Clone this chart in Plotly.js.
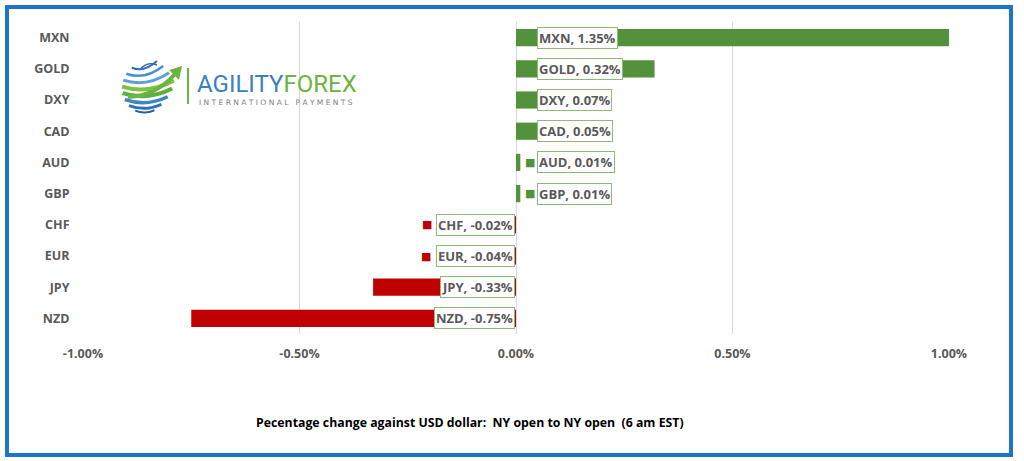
<!DOCTYPE html>
<html><head><meta charset="utf-8">
<script src="https://cdn.plot.ly/plotly-3.0.1.min.js"></script>
<style>html,body{margin:0;padding:0;background:#fff;}#chart{width:1024px;height:461px;}</style>
</head><body><div id="chart"></div>
<script>
// ---- data ----
const categories = ['MXN','GOLD','DXY','CAD','AUD','GBP','CHF','EUR','JPY','NZD'];
const values = [1.35, 0.32, 0.07, 0.05, 0.01, 0.01, -0.02, -0.04, -0.33, -0.75];
const keyed = ['AUD','GBP','CHF','EUR'];
const xTicks = [-1, -0.5, 0, 0.5, 1];
const xTickLabels = ['-1.00%', '-0.50%', '0.00%', '0.50%', '1.00%'];
const titleText = 'Pecentage change against USD dollar:  NY open to NY open  (6 am EST)';

const GREEN = '#53913A', RED = '#C00000';
const L = 83, R = 75, T = 22, B = 127, W = 1024, H = 461;
const PW = W - L - R, PH = H - T - B;
const px = x => (x - L) / PW;
const py = y => (PH + T - y) / PH;
const P = (x, y) => px(x).toFixed(5) + ',' + py(y).toFixed(5);

const FONT = 'Open Sans, Noto Sans, sans-serif';
const labelFont = {family: FONT, size: 13, color: '#595959', weight: 'bold'};
const cv = document.createElement('canvas').getContext('2d');
cv.font = 'bold 13px "Open Sans"';

const annotations = [];
const shapes = [];
categories.forEach((c, i) => {
  const v = values[i];
  const txt = c + ', ' + v.toFixed(2) + '%';
  const pos = v >= 0;
  annotations.push({
    x: 0, y: c, xref: 'x', yref: 'y', text: '<b>' + txt + '</b>', showarrow: false,
    xanchor: pos ? 'left' : 'right', xshift: pos ? 21 : -1,
    bgcolor: '#ffffff', bordercolor: '#8DBB78', borderwidth: 1, borderpad: 1,
    font: labelFont
  });
  if (keyed.includes(c)) {
    const bw = cv.measureText(txt).width + 6;
    annotations.push({
      x: 0, y: c, xref: 'x', yref: 'y', text: '■', showarrow: false,
      xanchor: 'center', xshift: pos ? 14 : -(1 + bw + 8),
      font: {family: 'DejaVu Sans', size: 11, color: pos ? GREEN : RED}
    });
  }
});

// bottom title
annotations.push({xref: 'paper', yref: 'paper', x: px(470), y: py(423), text: '<b>' + titleText + '</b>',
  showarrow: false, xanchor: 'center', yanchor: 'middle',
  font: {family: FONT, size: 12.3, color: '#000000'}});

// logo text
annotations.push({xref: 'paper', yref: 'paper', x: px(195), y: py(84), xanchor: 'left', yanchor: 'middle',
  showarrow: false,
  text: '<span style="color:#3A7EC6">AGILITY</span><span style="color:#6DB33F">FOREX</span>',
  font: {family: 'Roboto, sans-serif', size: 24}});
annotations.push({xref: 'paper', yref: 'paper', x: px(197), y: py(102), xanchor: 'left', yanchor: 'middle',
  showarrow: false,
  text: 'I N T E R N A T I O N A L   P A Y M E N T S',
  font: {family: 'DejaVu Sans, sans-serif', size: 7.5, color: '#808080'}});

// frame
shapes.push({type: 'rect', xref: 'paper', yref: 'paper', x0: px(7), x1: px(1011), y0: py(455), y1: py(7),
  line: {color: '#1B75C9', width: 4}, fillcolor: 'rgba(0,0,0,0)', layer: 'below'});
// logo separator
shapes.push({type: 'line', xref: 'paper', yref: 'paper', x0: px(188), x1: px(188), y0: py(104), y1: py(68),
  line: {color: '#6DB33F', width: 2}});
// globe stripes (latitude-like arcs)
const gc = [148, 88], gr = 26;
const bands = [
  [-0.78, '#2F6FB5', 2, 0.55], [-0.55, '#4A90D0', 2.5, 0.7], [-0.3, '#5BA0DC', 3, 0.85],
  [-0.05, '#7DC242', 4, 1.0], [0.2, '#5FAE3A', 4, 0.95], [0.45, '#3C86C8', 3.5, 0.85],
  [0.68, '#2F6FB5', 3, 0.7], [0.87, '#2A5FA5', 2, 0.5]
];
bands.forEach(b => {
  const h = b[0], s = Math.sqrt(1 - h * h);
  const y = gc[1] + gr * h;
  const x0 = gc[0] - gr * s, x1 = gc[0] + gr * s * b[3];
  const cy = y + 8 * s;
  shapes.push({type: 'path', xref: 'paper', yref: 'paper',
    path: 'M' + P(x0, y) + ' Q' + P((x0 + x1) / 2, cy) + ' ' + P(x1, y - 6 * s * (1 - h)),
    line: {color: b[1], width: b[2]}, fillcolor: 'rgba(0,0,0,0)'});
});
// top swirl
shapes.push({type: 'path', xref: 'paper', yref: 'paper',
  path: 'M' + P(140, 70) + ' Q' + P(146, 61) + ' ' + P(157, 65),
  line: {color: '#2F6FB5', width: 1.5}, fillcolor: 'rgba(0,0,0,0)'});
// arrow swoosh
shapes.push({type: 'path', xref: 'paper', yref: 'paper',
  path: 'M' + P(128, 97) + ' Q' + P(156, 96) + ' ' + P(175, 74),
  line: {color: '#6DB33F', width: 4}, fillcolor: 'rgba(0,0,0,0)'});
shapes.push({type: 'path', xref: 'paper', yref: 'paper',
  path: 'M' + P(169, 70) + ' L' + P(182, 66) + ' L' + P(179, 80) + ' Z',
  fillcolor: '#6DB33F', line: {width: 0}});

const trace = {
  type: 'bar', orientation: 'h', y: categories, x: values,
  marker: {color: values.map(v => v >= 0 ? GREEN : RED)},
  hoverinfo: 'skip'
};

const tickFont = {family: FONT, size: 12.5, color: '#595959', weight: 'bold'};
const layout = {
  width: W, height: H, margin: {l: L, r: R, t: T, b: B},
  paper_bgcolor: '#ffffff', plot_bgcolor: '#ffffff',
  showlegend: false, bargap: 0.45,
  xaxis: {range: [-1, 1], tickvals: xTicks, ticktext: xTickLabels,
    showgrid: true, gridcolor: '#D9D9D9', gridwidth: 1, zeroline: true, zerolinecolor: '#D9D9D9', zerolinewidth: 1,
    showline: false, ticks: 'outside', ticklen: 8, tickcolor: 'rgba(0,0,0,0)',
    tickfont: tickFont, fixedrange: true},
  yaxis: {type: 'category', categoryorder: 'array', categoryarray: categories, autorange: 'reversed',
    showgrid: false, zeroline: false, showline: false, ticks: 'outside', ticklen: 10, tickcolor: 'rgba(0,0,0,0)',
    tickfont: tickFont, fixedrange: true},
  annotations: annotations, shapes: shapes
};
Plotly.newPlot('chart', [trace], layout, {displayModeBar: false, staticPlot: true});
</script></body></html>
